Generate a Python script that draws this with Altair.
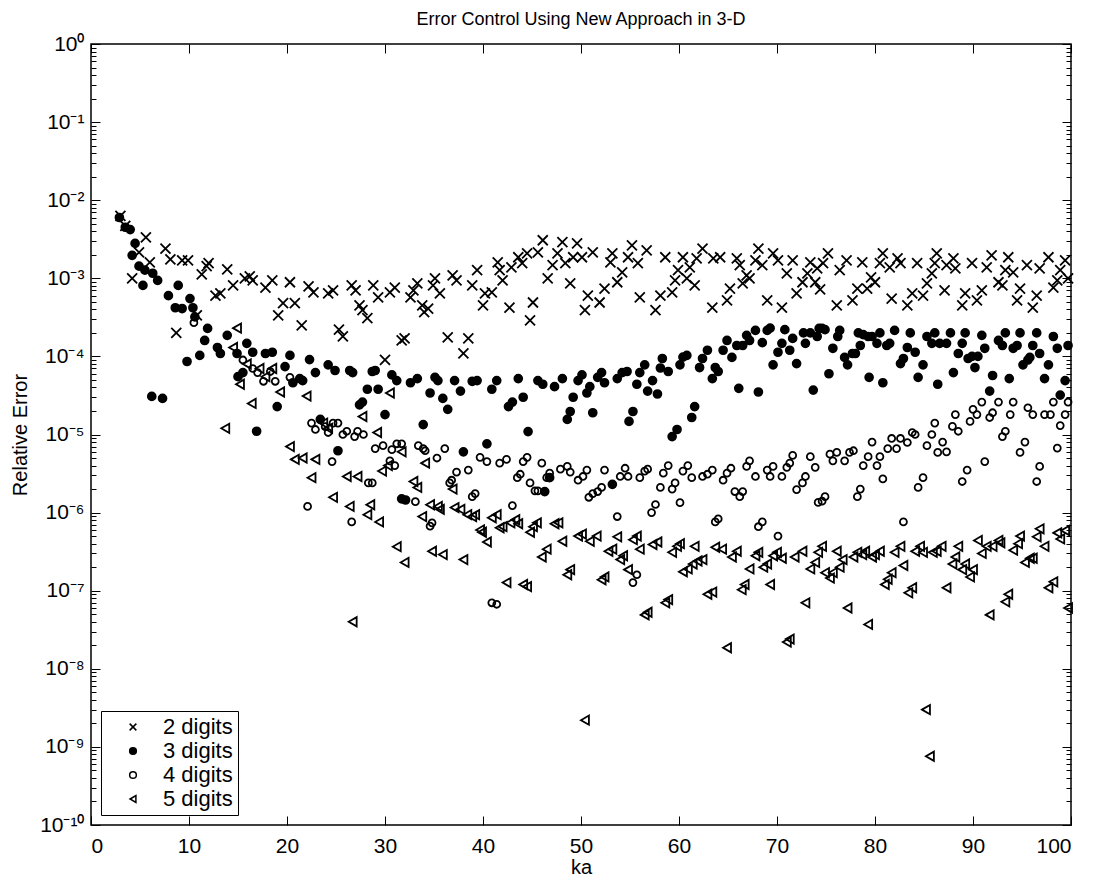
import altair as alt
import pandas as pd

# ---------------- data ----------------
series_names = ["2 digits", "3 digits", "4 digits", "5 digits"]

ka2 = [3.0, 3.5, 4.2, 4.9, 5.6, 6.0, 7.6, 8.1, 8.7, 9.3, 9.9, 10.8, 11.3, 11.8, 12.0, 12.7, 13.2, 13.9,
       14.5, 15.7, 16.2, 16.5, 17.8, 18.5, 19.1, 19.6, 20.3, 20.8, 21.5, 22.2, 22.7, 24.2, 24.7, 25.3,
       25.7, 26.6, 27.0, 27.4, 27.7, 28.2, 28.8, 29.3, 30.0, 30.5, 31.0, 31.7, 32.0, 32.6, 32.9, 33.3,
       33.8, 34.0, 34.4, 34.9, 35.1, 35.6, 36.4, 36.9, 37.3, 38.0, 38.5, 38.9, 39.4, 40.0, 40.2, 40.9,
       41.5, 41.7, 42.0, 42.7, 42.9, 43.6, 44.0, 44.5, 44.8, 45.1, 45.6, 46.1, 46.6, 47.1, 47.6, 48.1,
       48.4, 48.9, 49.2, 49.6, 50.1, 50.4, 50.7, 51.2, 51.9, 52.4, 53.0, 53.2, 53.7, 54.2, 54.8, 55.2,
       55.8, 56.0, 56.7, 57.6, 58.1, 58.6, 59.3, 59.6, 59.9, 60.4, 60.8, 61.1, 61.6, 61.8, 62.4, 63.4,
       63.5, 64.2, 64.9, 65.2, 65.9, 66.2, 66.5, 66.9, 67.2, 67.8, 68.1, 68.5, 69.0, 69.6, 70.1, 70.5,
       71.0, 71.6, 72.0, 72.6, 73.1, 73.4, 73.9, 74.1, 74.4, 74.7, 75.2, 76.1, 76.4, 77.1, 77.7, 78.2,
       78.7, 79.2, 79.6, 80.0, 80.5, 80.8, 81.5, 81.7, 82.3, 82.6, 83.3, 83.8, 84.3, 84.9, 85.3, 85.8,
       86.1, 86.3, 87.1, 87.3, 88.0, 88.2, 88.9, 89.2, 89.9, 90.4, 90.9, 91.4, 91.9, 92.6, 93.0, 93.3,
       93.6, 94.1, 94.5, 94.8, 95.5, 96.1, 96.5, 96.8, 97.7, 98.2, 98.6, 98.9, 99.4, 99.7]
err2 = [6.3e-3, 4.7e-3, 1.0e-3, 2.15e-3, 3.35e-3, 1.6e-3, 2.4e-3, 1.75e-3, 2.0e-4, 1.7e-3, 1.7e-3, 3.35e-4,
        1.12e-3, 1.43e-3, 1.56e-3, 6.0e-4, 6.4e-4, 1.3e-3, 8.1e-4, 1.0e-3, 1.06e-3, 9.4e-4, 7.6e-4, 9.4e-4,
        3.35e-4, 4.8e-4, 8.9e-4, 4.8e-4, 2.5e-4, 7.9e-4, 6.6e-4, 6.4e-4, 7.0e-4, 2.2e-4, 1.8e-4, 8.1e-4,
        7.0e-4, 4.5e-4, 3.9e-4, 3.1e-4, 8.1e-4, 5.7e-4, 9.0e-5, 6.6e-4, 7.6e-4, 1.6e-4, 1.7e-4, 5.7e-4,
        7.0e-4, 8.6e-4, 4.5e-4, 3.7e-4, 4.1e-4, 8.1e-4, 1.0e-3, 6.4e-4, 1.75e-4, 1.09e-3, 9.4e-4, 1.09e-4,
        1.7e-4, 8.1e-4, 1.27e-3, 4.5e-4, 6.4e-4, 6.6e-4, 1.6e-3, 1.27e-3, 9.4e-4, 4.2e-4, 1.38e-3, 1.86e-3,
        1.56e-3, 2.09e-3, 2.9e-4, 4.9e-4, 2.15e-3, 3.07e-3, 1.0e-3, 1.47e-3, 2.09e-3, 2.9e-3, 1.56e-3,
        8.6e-4, 1.86e-3, 2.8e-3, 1.86e-3, 3.9e-4, 6.0e-4, 2.15e-3, 4.9e-4, 7.4e-4, 1.6e-3, 2.09e-3, 8.9e-4,
        1.19e-3, 1.86e-3, 2.64e-3, 1.56e-3, 5.7e-4, 2.28e-3, 3.9e-4, 6.0e-4, 1.86e-3, 6.6e-4, 9.4e-4,
        1.27e-3, 1.86e-3, 1.0e-3, 1.38e-3, 8.1e-4, 1.8e-3, 2.4e-3, 4.2e-4, 1.8e-3, 1.86e-3, 5.2e-4, 7.4e-4,
        1.8e-3, 1.47e-3, 8.6e-4, 1.09e-3, 1.0e-3, 1.7e-3, 2.4e-3, 1.47e-3, 5.2e-4, 2.09e-3, 1.7e-3, 4.2e-4,
        1.16e-3, 1.7e-3, 6.4e-4, 8.9e-4, 1.16e-3, 1.6e-3, 8.9e-4, 1.34e-3, 7.2e-4, 1.56e-3, 2.09e-3,
        4.5e-4, 1.27e-3, 1.7e-3, 5.2e-4, 7.4e-4, 1.6e-3, 7.4e-4, 1.03e-3, 8.9e-4, 1.56e-3, 2.09e-3,
        1.38e-3, 5.5e-4, 1.8e-3, 1.56e-3, 4.5e-4, 6.4e-4, 1.56e-3, 6.0e-4, 8.6e-4, 1.16e-3, 1.56e-3,
        2.09e-3, 7.0e-4, 1.47e-3, 1.8e-3, 1.34e-3, 4.5e-4, 6.4e-4, 1.56e-3, 5.2e-4, 7.0e-4, 1.38e-3,
        1.97e-3, 8.9e-4, 8.1e-4, 1.27e-3, 1.86e-3, 1.19e-3, 5.2e-4, 7.4e-4, 1.47e-3, 4.2e-4, 6.0e-4,
        1.34e-3, 1.86e-3, 7.6e-4, 9.4e-4, 1.27e-3, 1.7e-3, 1.0e-3]

ka3 = [2.9, 3.5, 4.0, 4.2, 4.5, 4.9, 5.3, 5.5, 6.2, 6.3, 6.8, 7.3, 7.9, 8.6, 8.9, 9.3, 9.8, 10.1, 10.4,
       10.6, 11.1, 11.6, 11.9, 12.9, 13.2, 13.9, 14.9, 15.0, 15.5, 15.9, 16.5, 16.9, 17.8, 18.5, 19.0,
       19.8, 20.3, 20.6, 21.3, 21.6, 22.3, 22.9, 23.4, 24.2, 24.9, 25.2, 26.4, 26.7, 27.4, 27.7, 28.2,
       28.7, 29.0, 29.3, 30.0, 30.7, 31.2, 31.7, 32.1, 32.6, 33.3, 33.9, 34.6, 35.1, 35.4, 35.9, 36.4,
       37.1, 37.7, 38.0, 38.9, 39.4, 40.4, 40.9, 41.4, 42.6, 43.0, 43.6, 44.1, 44.6, 45.6, 46.1, 46.3,
       46.8, 47.3, 48.1, 48.6, 48.9, 49.2, 49.7, 50.1, 50.6, 50.9, 51.2, 51.7, 52.1, 52.4, 53.2, 53.7,
       54.2, 54.7, 54.9, 55.3, 55.7, 56.0, 56.5, 56.8, 57.3, 57.8, 58.1, 58.3, 58.9, 59.3, 59.8, 60.1,
       60.4, 60.8, 61.3, 61.6, 62.1, 62.4, 62.9, 63.4, 63.7, 64.0, 64.5, 64.9, 65.4, 65.9, 66.1, 66.5,
       66.9, 67.2, 67.8, 68.1, 68.5, 69.0, 69.3, 69.6, 70.1, 70.5, 70.8, 71.3, 71.6, 72.0, 72.7, 72.9,
       73.4, 73.7, 74.1, 74.3, 74.6, 74.9, 75.3, 75.7, 76.2, 76.4, 76.9, 77.2, 77.7, 78.0, 78.3, 78.5,
       78.8, 79.3, 79.4, 79.7, 80.2, 80.5, 80.8, 81.2, 81.5, 82.0, 82.6, 82.9, 83.3, 83.6, 84.1, 84.4,
       84.9, 85.3, 85.8, 86.1, 86.4, 86.6, 87.3, 87.7, 88.0, 88.5, 88.9, 89.2, 89.5, 89.9, 90.2, 90.5,
       90.9, 91.2, 91.7, 92.0, 92.6, 93.0, 93.3, 93.7, 94.1, 94.5, 94.8, 95.1, 95.6, 95.8, 96.1, 96.5,
       96.8, 97.3, 97.7, 98.2, 98.6, 98.9, 99.4, 99.7]
err3 = [6.0e-3, 4.5e-3, 4.2e-3, 1.97e-3, 2.8e-3, 1.43e-3, 8.1e-4, 1.27e-3, 3.07e-5, 1.16e-3, 9.4e-4, 2.9e-5,
        6.0e-4, 4.2e-4, 8.1e-4, 4.1e-4, 8.6e-5, 5.5e-4, 4.2e-4, 3.2e-4, 1.03e-4, 1.6e-4, 2.28e-4, 1.3e-4,
        1.09e-4, 1.86e-4, 1.09e-4, 5.5e-5, 6.2e-5, 1.47e-4, 1.13e-4, 1.1e-5, 1.09e-4, 1.13e-4, 2.28e-5,
        7.4e-5, 1.03e-4, 4.6e-5, 5.2e-5, 4.9e-5, 9.1e-5, 6.2e-5, 1.56e-5, 7.8e-5, 6.6e-5, 6.2e-6, 6.6e-5,
        6.2e-5, 2.4e-5, 2.6e-5, 3.8e-5, 6.4e-5, 6.6e-5, 3.8e-5, 1.8e-5, 5.8e-5, 4.9e-5, 1.5e-6, 1.45e-6,
        4.6e-5, 5.2e-5, 1.34e-5, 3.4e-5, 5.4e-5, 4.9e-5, 2.9e-5, 2.1e-5, 4.9e-5, 3.6e-5, 6.0e-6, 4.8e-5,
        4.9e-5, 7.6e-6, 3.8e-5, 4.9e-5, 2.28e-5, 2.6e-5, 5.2e-5, 3.0e-5, 1.09e-5, 4.9e-5, 4.4e-5, 1.86e-6,
        2.8e-6, 4.1e-5, 5.2e-5, 1.56e-5, 1.97e-5, 3.0e-5, 4.9e-5, 5.8e-5, 3.4e-5, 4.1e-5, 1.9e-5, 5.4e-5,
        6.2e-5, 4.6e-5, 2.3e-6, 5.2e-5, 6.2e-5, 6.4e-5, 1.47e-5, 1.97e-5, 4.4e-5, 6.2e-5, 7.8e-5, 3.6e-5,
        4.9e-5, 3.3e-5, 7.1e-5, 9.4e-5, 6.4e-5, 9.4e-6, 1.16e-5, 7.8e-5, 9.8e-5, 1.03e-4, 1.65e-5, 2.28e-5,
        7.2e-5, 9.4e-5, 1.2e-4, 5.2e-5, 7.2e-5, 6.4e-5, 1.2e-4, 1.6e-4, 9.7e-5, 1.38e-4, 3.9e-5, 1.38e-4,
        1.86e-4, 1.6e-4, 2.15e-4, 3.5e-5, 1.5e-4, 2.15e-4, 2.3e-4, 7.8e-5, 1.13e-4, 1.47e-4, 2.2e-4,
        1.2e-4, 1.7e-4, 8.1e-5, 2.0e-4, 1.47e-4, 2.0e-4, 3.7e-5, 1.8e-4, 2.28e-4, 2.28e-4, 2.2e-4, 6.0e-5,
        1.27e-4, 1.8e-4, 2.15e-4, 9.7e-5, 7.8e-5, 1.09e-4, 1.09e-4, 2.0e-4, 1.38e-4, 1.9e-4, 1.8e-4,
        5.4e-5, 1.8e-4, 1.47e-4, 2.0e-4, 4.6e-5, 1.38e-4, 1.47e-4, 2.15e-4, 8.1e-5, 9.4e-5, 1.3e-4,
        2.0e-4, 1.13e-4, 5.4e-5, 7.8e-5, 1.8e-4, 1.47e-4, 2.0e-4, 4.4e-5, 1.47e-4, 1.47e-4, 2.0e-4,
        6.2e-5, 1.09e-4, 1.47e-4, 2.0e-4, 9.4e-5, 1.0e-4, 7.2e-5, 1.0e-4, 1.86e-4, 1.27e-4, 3.6e-5,
        5.7e-5, 1.6e-4, 1.38e-4, 2.0e-4, 5.2e-5, 1.27e-4, 1.38e-4, 2.0e-4, 7.8e-5, 9.0e-5, 9.7e-5,
        1.38e-4, 2.0e-4, 1.09e-4, 5.2e-5, 7.8e-5, 1.8e-4, 1.27e-4, 3.2e-5, 4.9e-5, 1.38e-4]

ka4 = [10.5, 15.5, 16.5, 17.0, 17.6, 18.3, 18.8, 20.3, 22.1, 22.5, 22.9, 23.9, 24.2, 24.6, 24.7, 25.2,
       25.7, 26.1, 26.6, 26.9, 27.2, 27.8, 28.3, 28.7, 29.0, 29.8, 30.5, 30.7, 31.0, 31.2, 31.7, 33.1,
       33.4, 33.9, 34.1, 34.6, 34.8, 35.3, 36.1, 36.6, 36.8, 37.3, 38.5, 38.9, 39.2, 39.7, 40.4, 40.9,
       41.4, 41.7, 42.4, 43.0, 43.5, 43.8, 44.1, 44.5, 44.8, 45.3, 45.6, 46.0, 46.5, 46.8, 47.9, 48.6,
       48.9, 49.7, 50.2, 50.6, 50.8, 51.2, 51.7, 52.1, 52.4, 53.7, 54.0, 54.5, 54.8, 55.3, 55.7, 56.0,
       56.5, 56.8, 57.2, 57.6, 58.1, 58.4, 58.9, 59.3, 59.6, 60.1, 60.4, 60.9, 61.3, 62.4, 62.9, 63.4,
       63.7, 64.0, 64.5, 64.9, 65.3, 65.7, 66.2, 66.5, 66.9, 67.2, 67.8, 68.1, 68.5, 69.0, 69.3, 69.6,
       70.1, 70.5, 71.0, 71.3, 71.6, 72.0, 72.6, 72.9, 73.4, 73.9, 74.2, 74.6, 74.9, 75.4, 75.7, 76.1,
       76.9, 77.4, 77.8, 78.2, 78.5, 78.8, 79.3, 79.7, 80.2, 80.5, 80.8, 81.3, 81.7, 82.2, 82.6, 82.9,
       83.3, 83.8, 84.1, 84.4, 84.9, 85.3, 85.8, 86.1, 86.4, 86.9, 87.3, 87.9, 88.2, 88.5, 88.9, 89.4,
       89.7, 90.0, 90.4, 90.9, 91.2, 91.7, 92.0, 92.6, 93.0, 93.3, 93.8, 94.1, 94.8, 95.3, 95.6, 96.1,
       96.5, 96.8, 97.3, 97.9, 98.2, 98.6, 98.9, 99.4, 99.7]
err4 = [2.7e-4, 9.0e-5, 7.0e-5, 6.2e-5, 4.8e-5, 6.4e-5, 4.8e-5, 5.4e-5, 1.2e-6, 1.4e-5, 1.16e-5, 1.26e-5,
        1.06e-5, 4.5e-6, 1.4e-5, 1.4e-5, 1.0e-5, 1.1e-5, 7.6e-7, 9.4e-6, 1.1e-5, 1.0e-5, 2.4e-6, 2.4e-6,
        6.6e-6, 7.2e-6, 4.6e-6, 6.4e-6, 4.0e-6, 7.6e-6, 7.6e-6, 1.38e-6, 7.2e-6, 6.6e-6, 6.2e-6, 6.7e-7,
        7.4e-7, 5.0e-6, 6.6e-6, 2.4e-6, 2.6e-6, 3.3e-6, 3.5e-6, 1.6e-6, 1.75e-6, 5.1e-6, 4.5e-6, 7.0e-8,
        6.7e-8, 4.3e-6, 4.8e-6, 1.23e-6, 2.8e-6, 3.1e-6, 4.5e-6, 5.1e-6, 2.4e-6, 1.9e-6, 1.9e-6, 4.3e-6,
        2.8e-6, 3.2e-6, 3.6e-6, 3.9e-6, 3.3e-6, 2.6e-6, 2.9e-6, 3.5e-6, 1.57e-6, 1.75e-6, 1.86e-6, 2.1e-6,
        3.5e-6, 8.9e-7, 2.9e-6, 3.7e-6, 2.9e-6, 1.27e-7, 1.6e-7, 2.8e-6, 3.4e-6, 3.6e-6, 1.0e-6, 1.27e-6,
        2.1e-6, 3.2e-6, 4.0e-6, 2.0e-6, 2.4e-6, 1.34e-6, 3.4e-6, 4.0e-6, 2.8e-6, 2.9e-6, 3.1e-6, 3.5e-6,
        7.6e-7, 8.3e-7, 2.6e-6, 3.2e-6, 3.7e-6, 1.86e-6, 1.6e-6, 1.86e-6, 3.9e-6, 4.6e-6, 2.9e-6, 6.6e-7,
        7.6e-7, 3.5e-6, 2.9e-6, 3.9e-6, 5.0e-7, 2.9e-6, 3.8e-6, 4.3e-6, 5.4e-6, 1.97e-6, 2.4e-6, 2.9e-6,
        5.2e-6, 3.8e-6, 1.35e-6, 1.4e-6, 1.6e-6, 5.6e-6, 4.6e-6, 5.9e-6, 4.6e-6, 5.9e-6, 6.2e-6, 1.6e-6,
        2.0e-6, 4.0e-6, 5.2e-6, 8.0e-6, 4.0e-6, 5.2e-6, 2.7e-6, 6.6e-6, 8.9e-6, 6.6e-6, 8.9e-6, 7.6e-7,
        7.9e-6, 1.06e-5, 1.0e-5, 2.1e-6, 2.8e-6, 7.2e-6, 1.0e-5, 1.4e-5, 5.9e-6, 8.0e-6, 6.0e-6, 1.27e-5,
        1.8e-5, 1.1e-5, 2.5e-6, 3.5e-6, 1.47e-5, 2.1e-5, 1.8e-5, 2.6e-5, 4.5e-6, 1.65e-5, 1.9e-5, 2.6e-5,
        9.4e-6, 1.1e-5, 1.8e-5, 2.6e-5, 5.9e-6, 8.0e-6, 2.2e-5, 1.8e-5, 2.5e-6, 3.9e-6, 1.8e-5, 1.8e-5,
        2.6e-5, 6.7e-6, 1.3e-5, 1.8e-5, 2.6e-5]

ka5 = [13.7, 14.5, 14.9, 15.2, 15.9, 16.4, 17.2, 17.8, 18.5, 19.3, 20.3, 20.8, 21.6, 22.0, 22.5, 22.9,
       23.7, 24.2, 24.7, 26.1, 26.4, 26.7, 27.2, 27.7, 28.2, 28.5, 29.2, 29.4, 29.7, 30.3, 30.5, 31.2,
       31.7, 32.0, 32.9, 33.3, 33.8, 34.1, 34.6, 34.8, 35.4, 35.6, 35.9, 36.9, 37.1, 37.7, 38.0, 38.4,
       38.9, 39.2, 39.7, 39.9, 40.4, 40.9, 41.4, 41.7, 42.0, 42.4, 42.8, 43.3, 43.6, 44.1, 44.5, 44.8,
       45.1, 45.5, 46.0, 46.5, 47.3, 47.7, 48.1, 48.6, 48.9, 49.7, 50.1, 50.4, 50.9, 51.6, 52.1, 52.4,
       52.8, 53.2, 53.7, 54.0, 54.3, 54.8, 55.3, 55.7, 56.0, 56.5, 56.8, 57.3, 57.8, 58.6, 58.9, 59.3,
       59.8, 60.1, 60.4, 60.9, 61.4, 61.6, 61.9, 62.4, 62.9, 63.4, 63.7, 64.4, 64.9, 65.4, 65.9, 66.4,
       66.7, 67.2, 67.8, 68.1, 68.6, 69.0, 69.3, 69.6, 70.0, 70.5, 71.0, 71.3, 71.8, 72.6, 72.9, 73.4,
       73.9, 74.2, 74.6, 74.9, 75.4, 75.7, 76.1, 76.4, 76.7, 77.2, 77.8, 78.2, 78.7, 79.0, 79.3, 79.7,
       80.0, 80.5, 81.0, 81.3, 81.7, 82.0, 82.6, 82.9, 83.4, 83.8, 84.1, 84.6, 84.9, 85.2, 85.6, 85.9,
       86.3, 86.8, 87.3, 87.9, 88.2, 88.5, 88.9, 89.2, 89.7, 90.0, 90.5, 90.9, 91.4, 91.7, 92.0, 92.6,
       92.8, 93.3, 93.6, 94.1, 94.6, 94.8, 95.3, 95.8, 96.1, 96.5, 96.8, 97.3, 97.7, 98.2, 98.6, 98.9,
       99.4, 99.7]
err5 = [1.2e-5, 1.3e-4, 2.3e-4, 4.4e-5, 8.0e-5, 2.5e-5, 7.0e-5, 5.5e-5, 7.0e-5, 3.5e-5, 7.0e-6, 4.8e-6,
        5.0e-6, 3.1e-5, 2.8e-6, 4.8e-6, 1.4e-5, 1.2e-5, 1.57e-6, 2.9e-6, 1.2e-6, 4.0e-8, 2.9e-6, 1.7e-5,
        9.4e-7, 1.26e-6, 1.06e-5, 7.6e-7, 3.4e-6, 4.0e-6, 3.4e-5, 3.66e-7, 6.0e-6, 2.3e-7, 2.5e-6, 2.1e-6,
        8.9e-7, 4.3e-6, 1.26e-6, 3.2e-7, 1.2e-6, 1.1e-6, 2.9e-7, 2.0e-6, 1.16e-6, 1.1e-6, 2.5e-7, 9.4e-7,
        8.9e-7, 9.4e-7, 6.0e-7, 5.6e-7, 4.2e-7, 8.6e-7, 9.4e-7, 6.4e-7, 6.6e-7, 1.27e-7, 7.4e-7, 8.1e-7,
        7.2e-7, 1.2e-7, 1.13e-7, 5.6e-7, 6.6e-7, 7.4e-7, 2.7e-7, 3.4e-7, 7.2e-7, 7.4e-7, 4.3e-7, 1.6e-7,
        1.86e-7, 5.0e-7, 5.3e-7, 2.2e-9, 4.3e-7, 5.0e-7, 1.38e-7, 1.5e-7, 3.2e-7, 3.4e-7, 4.9e-7, 2.5e-7,
        2.8e-7, 1.86e-7, 4.5e-7, 5.0e-7, 3.4e-7, 4.9e-8, 5.3e-8, 3.9e-7, 4.2e-7, 7.0e-8, 7.7e-8, 3.1e-7,
        3.7e-7, 4.0e-7, 1.75e-7, 1.9e-7, 2.2e-7, 3.7e-7, 2.4e-7, 2.5e-7, 9.0e-8, 9.6e-8, 3.6e-7, 3.4e-7,
        1.86e-8, 2.7e-7, 3.2e-7, 1.03e-7, 1.2e-7, 1.9e-7, 2.8e-7, 3.1e-7, 2.0e-7, 2.2e-7, 1.2e-7, 2.8e-7,
        3.1e-7, 2.6e-7, 2.2e-8, 2.4e-8, 2.7e-7, 3.2e-7, 7.0e-8, 1.9e-7, 2.3e-7, 3.1e-7, 3.7e-7, 1.7e-7,
        1.45e-7, 1.7e-7, 3.2e-7, 2.0e-7, 2.5e-7, 6.0e-8, 2.7e-7, 3.1e-7, 2.9e-7, 3.2e-7, 3.7e-8, 2.7e-7,
        2.9e-7, 3.2e-7, 1.2e-7, 1.4e-7, 1.7e-7, 3.1e-7, 3.7e-7, 2.1e-7, 9.4e-8, 1.09e-7, 3.2e-7, 3.7e-7,
        3.1e-7, 3.0e-9, 7.6e-10, 3.1e-7, 3.2e-7, 3.7e-7, 1.09e-7, 2.2e-7, 2.7e-7, 3.7e-7, 1.86e-7, 2.2e-7,
        1.5e-7, 1.86e-7, 4.4e-7, 3.0e-7, 3.7e-7, 4.9e-8, 3.7e-7, 4.4e-7, 4.1e-7, 7.2e-8, 9.0e-8, 3.3e-7,
        4.0e-7, 5.0e-7, 2.3e-7, 2.6e-7, 2.6e-7, 4.9e-7, 6.2e-7, 3.7e-7, 1.09e-7, 1.3e-7, 5.5e-7, 4.6e-7,
        5.9e-7, 6.0e-8]

x_tick_values = [0, 10, 20, 30, 40, 50, 60, 70, 80, 90, 100]
y_exponents = list(range(0, -11, -1))

# ---------------- build tables ----------------
frames = []
for name, ks, es in zip(series_names, [ka2, ka3, ka4, ka5], [err2, err3, err4, err5]):
    frames.append(pd.DataFrame({"ka": ks, "err": es, "series": name}))
df = pd.concat(frames, ignore_index=True)
frame_df = pd.DataFrame({"ka": [0.0, 100.0], "err": [1e-10, 1.0]})

y_major = [10.0 ** e for e in y_exponents]
y_minor = [m * 10.0 ** e for e in y_exponents[1:] for m in range(2, 10)]

SUP = {"0": "⁰", "1": "¹", "2": "²", "3": "³", "4": "⁴", "5": "⁵",
       "6": "⁶", "7": "⁷", "8": "⁸", "9": "⁹", "-": "⁻"}


def lab(e):
    return "10" + "".join(SUP[c] for c in str(e))


expr = ""
for e in y_exponents[:-1]:
    expr += f"datum.value > {0.5 * 10.0 ** e!r} ? '{lab(e)}' : "
expr += f"'{lab(y_exponents[-1])}'"

W, H = 980, 781
FONT = "Liberation Sans"
x_scale = alt.Scale(domain=[0, 100], nice=False, zero=False)
y_scale = alt.Scale(type="log", domain=[1e-10, 1], nice=False)
XPATH = "M-1,-1L1,1M-1,1L1,-1"

legend = alt.Legend(
    title=None, orient="bottom-left", offset=10, strokeColor="black", fillColor="white",
    padding=5, labelFont=FONT, labelFontSize=22, labelColor="black",
    symbolSize=45, symbolStrokeWidth=1.5, symbolOffset=16, labelOffset=19, rowPadding=2,
)

size_rule = alt.SizeValue(85, condition=[
    {"test": "datum.series === '2 digits'", "value": 100},
    {"test": "datum.series === '3 digits'", "value": 62},
    {"test": "datum.series === '4 digits'", "value": 48},
])

points = alt.Chart(df).mark_point(opacity=1, strokeWidth=1.8).encode(
    x=alt.X("ka:Q", scale=x_scale,
            axis=alt.Axis(orient="bottom", values=x_tick_values, title="ka", ticks=False, domain=False,
                          grid=False, labelFont=FONT, labelFontSize=21, labelColor="black",
                          labelPadding=10, titleFont=FONT, titleFontSize=20, titleFontWeight="normal",
                          titleColor="black", titlePadding=1)),
    y=alt.Y("err:Q", scale=y_scale,
            axis=alt.Axis(orient="left", values=y_major, labelExpr=expr, title="Relative Error",
                          ticks=False, domain=False, grid=False, labelFont=FONT, labelFontSize=21,
                          labelColor="black", labelPadding=7, titleFont=FONT, titleFontSize=20,
                          titleFontWeight="normal", titleColor="black", titlePadding=9)),
    shape=alt.Shape("series:N", scale=alt.Scale(domain=series_names,
                                                range=[XPATH, "circle", "circle", "triangle-left"]),
                    legend=legend),
    fill=alt.Fill("series:N", scale=alt.Scale(domain=series_names,
                                              range=["transparent", "black", "transparent", "transparent"]),
                  legend=legend),
    stroke=alt.Stroke("series:N", scale=alt.Scale(domain=series_names,
                                                  range=["black", "black", "black", "black"]),
                      legend=legend),
    size=size_rule,
)


def tick_axis(orient, offset, values, size):
    return alt.Axis(orient=orient, offset=offset, values=values, labels=False, domain=False, grid=False,
                    ticks=True, tickSize=size, tickWidth=1, tickColor="black", title=None)


def blank_axis(orient):
    return alt.Axis(orient=orient, labels=False, domain=False, grid=False, ticks=False, title=None)


def tick_layer(x_axis, y_axis):
    return alt.Chart(frame_df).mark_point(opacity=0).encode(
        x=alt.X("ka:Q", scale=x_scale, axis=x_axis),
        y=alt.Y("err:Q", scale=y_scale, axis=y_axis),
    )


# inward ticks: axes of the opposite orient moved onto the far edge
layer_a = tick_layer(tick_axis("top", -H, x_tick_values, 9), tick_axis("right", -W, y_major, 9))
layer_b = tick_layer(tick_axis("bottom", -H, x_tick_values, 9), tick_axis("left", -W, y_major, 9))
layer_c = tick_layer(blank_axis("bottom"), tick_axis("right", -W, y_minor, 5))
layer_d = tick_layer(blank_axis("bottom"), tick_axis("left", -W, y_minor, 5))

chart = alt.layer(points, layer_a, layer_b, layer_c, layer_d).resolve_axis(
    x="independent", y="independent"
).properties(
    width=W, height=H,
    title=alt.TitleParams("Error Control Using New Approach in 3-D", font=FONT, fontSize=18,
                          fontWeight="normal", color="black", anchor="middle", offset=4),
    autosize=alt.AutoSizeParams(type="none"),
    padding={"left": 83, "top": 36, "right": 15, "bottom": 58},
    background="white",
).configure_view(stroke="black", strokeWidth=1.5)

chart.save("out.html", embed_options={"renderer": "svg", "actions": False})
